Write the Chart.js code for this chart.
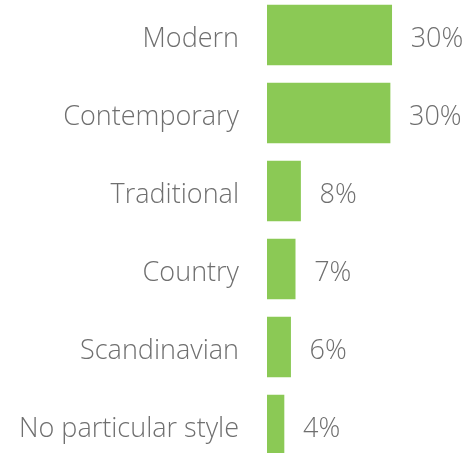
<!DOCTYPE html>
<html>
<head>
<meta charset="utf-8">
<script src="https://cdn.jsdelivr.net/npm/chart.js@4"></script>
<style>
  html, body { margin: 0; padding: 0; background: #fff; overflow: hidden; }
  #wrap { position: absolute; left: 0; top: -4px; width: 470px; height: 468px; }
</style>
</head>
<body>
<div id="wrap"><canvas id="styleChart" width="470" height="468"></canvas></div>
<script>
const categories = ['Modern', 'Contemporary', 'Traditional', 'Country', 'Scandinavian', 'No particular style'];
const shares = [30.1, 29.7, 8.1, 6.8, 5.7, 4.1];
const shareLabels = ['30%', '30%', '8%', '7%', '6%', '4%'];

const barColor = '#8bc955';
const textColor = '#6f6f6f';
const fontFamily = '"Open Sans", Lato, sans-serif';

// value text to the right of each bar
const valueLabels = {
    id: 'valueLabels',
    afterDatasetsDraw(chart) {
        const ctx = chart.ctx;
        const meta = chart.getDatasetMeta(0);
        ctx.save();
        ctx.fillStyle = textColor;
        ctx.font = '300 27px ' + fontFamily;
        ctx.textAlign = 'left';
        ctx.textBaseline = 'middle';
        meta.data.forEach((bar, i) => {
            ctx.fillText(shareLabels[i], bar.x + 19, bar.y + 4);
        });
        ctx.restore();
    }
};

const ctx = document.getElementById('styleChart').getContext('2d');

new Chart(ctx, {
    type: 'bar',
    data: {
        labels: categories,
        datasets: [{
            data: shares,
            backgroundColor: barColor,
            borderWidth: 0,
            barThickness: 60
        }]
    },
    options: {
        indexAxis: 'y',
        responsive: false,
        animation: false,
        layout: { padding: 0 },
        plugins: {
            legend: { display: false },
            tooltip: { enabled: false }
        },
        scales: {
            x: {
                display: false,
                min: 0,
                max: 49
            },
            y: {
                grid: { display: false, drawTicks: false },
                border: { display: false },
                ticks: {
                    color: textColor,
                    padding: 28,
                    labelOffset: 4,
                    font: { family: fontFamily, size: 27, weight: '300' }
                },
                afterFit(scale) {
                    // fixed axis width, no extra room above/below the bands
                    scale.width = 267;
                    scale.paddingTop = 0;
                    scale.paddingBottom = 0;
                }
            }
        }
    },
    plugins: [valueLabels]
});
</script>
</body>
</html>
